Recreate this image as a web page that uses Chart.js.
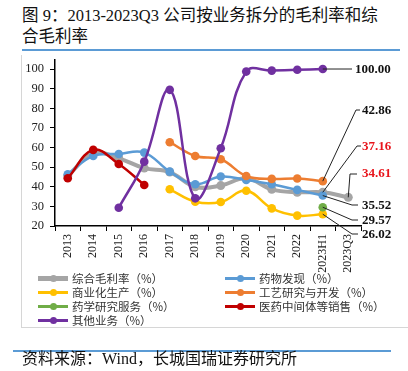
<!DOCTYPE html>
<html><head><meta charset="utf-8">
<script src="https://cdn.jsdelivr.net/npm/chart.js@4.4.1/dist/chart.umd.min.js"></script>
<style>
html,body{margin:0;padding:0;background:#fff;}
#wrap{position:relative;width:408px;height:371px;overflow:hidden;font-family:"Liberation Serif","Noto Sans CJK SC",serif;}
#title{position:absolute;left:22px;top:5px;font-size:16.5px;line-height:21px;color:#111;white-space:nowrap;}
#tline{position:absolute;left:22px;top:49px;width:378px;height:1.5px;background:#5b9bd5;}
#frame{position:absolute;left:21px;top:55px;width:390px;height:272px;border-left:1px solid #d6d6d6;border-bottom:1px solid #d6d6d6;}
#cv{position:absolute;left:0;top:0;}
#legend{position:absolute;left:0;top:0;}
.li{position:absolute;display:flex;align-items:center;font-family:"Noto Sans CJK SC",sans-serif;font-size:11.5px;color:#333;white-space:nowrap;}
.mk{position:relative;width:30px;height:3px;margin-right:4px;}
.mk i{position:absolute;left:11.5px;width:7px;height:7px;border-radius:50%;}
#fline{position:absolute;left:13px;top:350px;width:378px;height:1.5px;background:#5b9bd5;}
#foot{position:absolute;left:22px;top:349px;font-size:16px;line-height:20px;color:#111;white-space:nowrap;}
</style></head>
<body><div id="wrap">
<div id="title">图 9：2013-2023Q3 公司按业务拆分的毛利率和综<br>合毛利率</div>
<div id="tline"></div>
<div id="frame"></div>
<canvas id="cv" width="408" height="371"></canvas>
<div id="legend"></div>
<div id="fline"></div>
<div id="foot">资料来源：Wind，长城国瑞证券研究所</div>
</div>
<script>
const categories = ['2013','2014','2015','2016','2017','2018','2019','2020','2021','2022','2023H1','2023Q3'];
const overall        = [45.5, 57.0, 54.5, 49.5, 47.5, 40.0, 40.6, 44.3, 38.7, 37.2, 37.16, 34.61];
const drugDiscovery  = [46.4, 55.7, 56.7, 57.4, 47.7, 41.3, 45.2, 43.5, 41.3, 38.4, 35.52, null];
const commercialProd = [null, null, null, null, 38.7, 32.4, 32.2, 38.0, 29.0, 25.3, 26.02, null];
const processRD      = [null, null, null, null, 62.7, 55.7, 54.0, 45.5, 44.0, 44.2, 42.86, null];
const pharmServices  = [null, null, null, null, null, null, null, null, null, null, 29.57, null];
const intermediates  = [44.3, 58.8, 51.6, 40.9, null, null, null, null, null, null, null, null];
const otherBusiness  = [null, null, 29.3, 52.8, 89.4, 34.1, 59.6, 98.7, 99.2, 99.6, 100.00, null];
const seriesNames = ['综合毛利率（%）','药物发现（%）','商业化生产（%）','工艺研究与开发（%）','药学研究服务（%）','医药中间体等销售（%）','其他业务（%）'];
const yTicks = [20,30,40,50,60,70,80,90,100];

const colors = ['#a5a5a5','#5b9bd5','#ffc000','#ed7d31','#70ad47','#c00000','#7030a0'];
const seriesData = [overall, drugDiscovery, commercialProd, processRD, pharmServices, intermediates, otherBusiness];

const datasets = seriesData.map((d,i)=>({
  label: seriesNames[i], data: d,
  borderColor: colors[i], backgroundColor: colors[i],
  borderWidth: i===0 ? 4 : 2.5,
  pointRadius: i===0 ? 4.5 : 4.3, pointBorderWidth: 0, pointHoverRadius: 4.3,
  tension: 0.4, spanGaps: false,
  order: 7 - i
}));

// annotation: [datasetIndex, categoryIndex, text, color, path(after point), textX, textY]
const callouts = [
  [6, 10, '100.00', '#111', [[352,69]], 355, 70],
  [3, 10, '42.86', '#111', [[356,110],[360,110]], 362, 111],
  [0, 10, '37.16', '#e8141b', [[357,146],[361,146]], 362, 147],
  [0, 11, '34.61', '#e8141b', [[350,174],[357,174]], 362, 174],
  [1, 10, '35.52', '#111', [[352,205],[358,205]], 362, 206],
  [4, 10, '29.57', '#111', [[352,220],[358,220]], 362, 221],
  [2, 10, '26.02', '#111', [[352,234],[358,234]], 362, 235]
];

const calloutPlugin = {
  id: 'callouts',
  afterDraw(chart){
    const ctx = chart.ctx;
    ctx.save();
    callouts.forEach(c=>{
      const pt = chart.getDatasetMeta(c[0]).data[c[1]];
      ctx.beginPath();
      ctx.strokeStyle = '#222'; ctx.lineWidth = 1;
      ctx.moveTo(pt.x, pt.y);
      c[4].forEach(p=>ctx.lineTo(p[0], p[1]));
      ctx.stroke();
      ctx.fillStyle = c[3];
      ctx.font = 'bold 13px "Liberation Serif", serif';
      ctx.textAlign = 'left'; ctx.textBaseline = 'middle';
      ctx.fillText(c[2], c[5], c[6]);
    });
    ctx.restore();
  }
};

new Chart(document.getElementById('cv'), {
  type: 'line',
  data: { labels: categories, datasets },
  options: {
    responsive: false, animation: false,
    layout: { padding: { left: 20, right: 47, top: 60, bottom: 95 } },
    plugins: { legend: { display: false }, tooltip: { enabled: false } },
    scales: {
      x: {
        offset: true,
        grid: { offset: true, drawOnChartArea: false, drawTicks: true, tickLength: 5, color: '#000', lineWidth: 1 },
        border: { color: '#000', width: 1.5 },
        ticks: { minRotation: 90, maxRotation: 90, padding: 3, color: '#222', font: { family: '"Liberation Serif", serif', size: 12 } },
        afterFit(s){ s.height = 50; }
      },
      y: {
        min: 20, max: 104.6,
        afterBuildTicks(s){ s.ticks = yTicks.map(v=>({value:v})); },
        grid: { drawOnChartArea: false, drawTicks: true, tickLength: 5, color: '#000' },
        border: { color: '#000', width: 1.5 },
        ticks: { padding: 6, color: '#222', font: { family: '"Liberation Serif", serif', size: 12.5 } },
        afterFit(s){ s.width = 35; }
      }
    }
  },
  plugins: [calloutPlugin]
});

// legend (HTML), built from series names and colors
const legendPos = [[38,278],[225,278],[38,292],[225,292],[38,306],[225,306],[38,320]];
const lg = document.getElementById('legend');
seriesNames.forEach((n,i)=>{
  const d = document.createElement('div');
  d.className = 'li';
  d.style.left = legendPos[i][0]+'px';
  d.style.top = (legendPos[i][1]-9)+'px';
  d.style.height = '18px';
  const h = i===0 ? 5 : 3;
  d.innerHTML = '<span class="mk" style="height:'+h+'px;background:'+colors[i]+'"><i style="top:'+((h-7)/2)+'px;background:'+colors[i]+'"></i></span><span>'+n+'</span>';
  lg.appendChild(d);
});
</script>
</body></html>
